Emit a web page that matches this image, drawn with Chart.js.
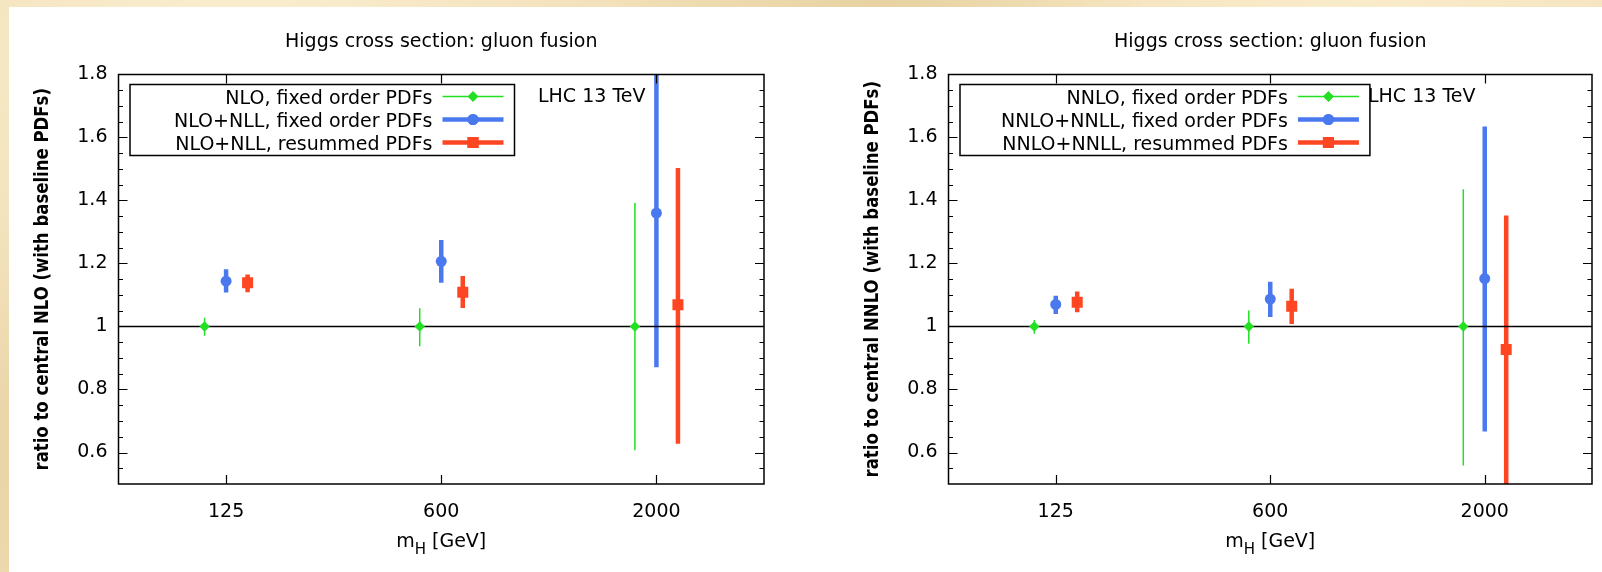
<!DOCTYPE html>
<html>
<head>
<meta charset="utf-8">
<script src="https://cdn.jsdelivr.net/npm/chart.js@4.4.0/dist/chart.umd.min.js"></script>
<style>
  html, body { margin: 0; padding: 0; }
  body {
    width: 1602px; height: 572px; overflow: hidden; position: relative;
    background-color: #f1dfb6;
    background-image:
      radial-gradient(circle at 15% 20%, rgba(255,246,222,0.8), transparent 30%),
      radial-gradient(circle at 55% 0%, rgba(228,205,155,0.7), transparent 25%),
      radial-gradient(circle at 85% 10%, rgba(255,244,215,0.7), transparent 30%),
      radial-gradient(circle at 2% 70%, rgba(230,206,158,0.8), transparent 20%);
  }
  #panel { position: absolute; left: 9px; top: 7px; right: 0; bottom: 0; background: #fff; }
  .box { position: absolute; top: 0; width: 801px; height: 572px; }
</style>
</head>
<body>
<div id="panel"></div>
<div class="box" style="left:0"><canvas id="chartLeft"></canvas></div>
<div class="box" style="left:801px"><canvas id="chartRight"></canvas></div>
<script>
// categories and y ticks
var massLabels = ['125', '600', '2000'];
var yTickValues = [0.6, 0.8, 1, 1.2, 1.4, 1.6, 1.8];

// left panel (NLO)
var nloFixed = [1, 1, 1];
var nloFixedLow = [0.971, 0.937, 0.607];
var nloFixedHigh = [1.028, 1.058, 1.392];

var nllFixed = [1.144, 1.207, 1.360];
var nllFixedLow = [1.108, 1.139, 0.871];
var nllFixedHigh = [1.182, 1.275, 1.85];

var nllResummed = [1.139, 1.109, 1.069];
var nllResummedLow = [1.109, 1.059, 0.628];
var nllResummedHigh = [1.165, 1.160, 1.503];

// right panel (NNLO)
var nnloFixed = [1, 1, 1];
var nnloFixedLow = [0.977, 0.945, 0.559];
var nnloFixedHigh = [1.021, 1.051, 1.436];

var nnllFixed = [1.070, 1.087, 1.152];
var nnllFixedLow = [1.040, 1.030, 0.667];
var nnllFixedHigh = [1.098, 1.142, 1.635];

var nnllResummed = [1.077, 1.064, 0.927];
var nnllResummedLow = [1.045, 1.008, 0.45];
var nnllResummedHigh = [1.111, 1.120, 1.352];

var FONT = 'DejaVu Sans';
Chart.defaults.font.family = FONT;
Chart.defaults.font.size = 19;
Chart.defaults.color = '#000';

var GREEN = '#22e022';
var BLUE = '#4a78ef';
var RED = '#ff4623';

function makeDataset(label, central, low, high, color, style, radius, lineW, shift) {
    var pts = [];
    for (let i = 0; i < central.length; i++) {
        pts.push({ x: i + 1 + shift, y: central[i] });
    }
    return {
        label: label,
        data: pts,
        errLow: low,
        errHigh: high,
        barWidth: lineW,
        borderColor: color,
        backgroundColor: color,
        pointBackgroundColor: color,
        pointBorderColor: color,
        pointBorderWidth: 0,
        pointStyle: style,
        pointRadius: radius,
        showLine: false
    };
}

var gnuplotFrame = {
    id: 'gnuplotFrame',
    beforeDatasetsDraw: function(chart) {
        var ctx = chart.ctx, ca = chart.chartArea;
        var xs = chart.scales.x, ys = chart.scales.y;
        ctx.save();
        ctx.beginPath();
        ctx.rect(ca.left, ca.top, ca.right - ca.left, ca.bottom - ca.top);
        ctx.clip();
        chart.data.datasets.forEach(function(ds) {
            ctx.strokeStyle = ds.borderColor;
            ctx.lineWidth = ds.barWidth;
            ds.data.forEach(function(p, i) {
                var px = xs.getPixelForValue(p.x);
                ctx.beginPath();
                ctx.moveTo(px, ys.getPixelForValue(ds.errLow[i]));
                ctx.lineTo(px, ys.getPixelForValue(ds.errHigh[i]));
                ctx.stroke();
            });
        });
        // reference line at 1
        var y1 = ys.getPixelForValue(1);
        ctx.strokeStyle = '#000';
        ctx.lineWidth = 1.5;
        ctx.beginPath();
        ctx.moveTo(ca.left, y1);
        ctx.lineTo(ca.right, y1);
        ctx.stroke();
        ctx.restore();
    },
    afterDraw: function(chart, args, opts) {
        var ctx = chart.ctx, ca = chart.chartArea;
        var xs = chart.scales.x, ys = chart.scales.y;
        ctx.save();
        ctx.strokeStyle = '#000';
        ctx.lineWidth = 1.5;
        ctx.strokeRect(ca.left, ca.top, ca.right - ca.left, ca.bottom - ca.top);

        // y ticks, both sides, inward
        ctx.lineWidth = 1.2;
        ctx.beginPath();
        for (let v = 0.55; v < 1.8; v += 0.05) {
            var yy = Math.round(ys.getPixelForValue(v)) + 0.5;
            var major = yTickValues.some(function(t) { return Math.abs(t - v) < 1e-6; });
            var len = major ? 9 : 4.5;
            ctx.moveTo(ca.left, yy); ctx.lineTo(ca.left + len, yy);
            ctx.moveTo(ca.right, yy); ctx.lineTo(ca.right - len, yy);
        }
        // x ticks, top and bottom
        for (let i = 0; i < massLabels.length; i++) {
            var xx = Math.round(xs.getPixelForValue(i + 1)) + 0.5;
            ctx.moveTo(xx, ca.bottom); ctx.lineTo(xx, ca.bottom - 9);
            ctx.moveTo(xx, ca.top); ctx.lineTo(xx, ca.top + 9);
        }
        ctx.stroke();

        var cx = (ca.left + ca.right) / 2;
        var cy = (ca.top + ca.bottom) / 2;
        ctx.fillStyle = '#000';
        ctx.textBaseline = 'alphabetic';

        // title
        ctx.font = '19px ' + FONT;
        ctx.textAlign = 'center';
        ctx.fillText(opts.title, cx, 47);

        // y axis title, bold and a bit narrow like the original
        ctx.save();
        ctx.translate(opts.yTitleX, cy);
        ctx.rotate(-Math.PI / 2);
        ctx.scale(0.87, 1);
        ctx.font = 'bold 19px ' + FONT;
        ctx.textBaseline = 'middle';
        ctx.fillText(opts.yTitle, 0, 0);
        ctx.restore();

        // x label m_H [GeV]
        ctx.textAlign = 'left';
        ctx.font = '19px ' + FONT;
        var wM = ctx.measureText('m').width;
        var wRest = ctx.measureText(' [GeV]').width;
        ctx.font = '15px ' + FONT;
        var wH = ctx.measureText('H').width;
        var x0 = cx - (wM + wH + wRest) / 2;
        ctx.font = '19px ' + FONT;
        ctx.fillText('m', x0, 547);
        ctx.fillText(' [GeV]', x0 + wM + wH, 547);
        ctx.font = '15px ' + FONT;
        ctx.fillText('H', x0 + wM, 554);

        // LHC label
        ctx.font = '19px ' + FONT;
        ctx.fillText('LHC 13 TeV', ca.left + 419.5, ca.top + 27);

        // legend box
        var dsets = chart.data.datasets;
        var maxW = 0;
        dsets.forEach(function(ds) { maxW = Math.max(maxW, ctx.measureText(ds.label).width); });
        var boxL = ca.left + 11.5;
        var textR = boxL + maxW + opts.legendPad;
        var boxR = textR + 82;
        var boxT = ca.top + 10, boxB = ca.top + 81;
        ctx.fillStyle = '#fff';
        ctx.fillRect(boxL, boxT, boxR - boxL, boxB - boxT);
        ctx.lineWidth = 1.5;
        ctx.strokeRect(boxL, boxT, boxR - boxL, boxB - boxT);
        dsets.forEach(function(ds, i) {
            var ry = boxT + 12 + i * 23;
            ctx.fillStyle = '#000';
            ctx.textAlign = 'right';
            ctx.fillText(ds.label, textR, ry + 7);
            ctx.strokeStyle = ds.borderColor;
            ctx.lineWidth = ds.barWidth;
            ctx.beginPath();
            ctx.moveTo(textR + 10, ry);
            ctx.lineTo(textR + 71, ry);
            ctx.stroke();
            ctx.fillStyle = ds.pointBackgroundColor;
            Chart.helpers.drawPoint(ctx, { pointStyle: ds.pointStyle, radius: ds.pointRadius, rotation: 0, borderWidth: 0 }, textR + 40.5, ry);
            ctx.fill();
        });
        ctx.restore();
    }
};

function buildChart(id, datasets, title, yTitle, lay) {
    return new Chart(document.getElementById(id), {
        type: 'scatter',
        data: { datasets: datasets },
        options: {
            responsive: true,
            maintainAspectRatio: false,
            animation: false,
            layout: { padding: { top: 74.5, right: lay.right, bottom: 0, left: 0 } },
            plugins: {
                legend: { display: false },
                tooltip: { enabled: false },
                gnuplotFrame: { title: title, yTitle: yTitle, yTitleX: lay.yTitleX, legendPad: lay.legendPad }
            },
            scales: {
                x: {
                    type: 'linear', min: 0.5, max: 3.5,
                    afterBuildTicks: function(ax) { ax.ticks = massLabels.map(function(l, i) { return { value: i + 1 }; }); },
                    afterFit: function(sc) { sc.height = 88; },
                    ticks: {
                        autoSkip: false, maxRotation: 0, padding: 17,
                        callback: function(v) { return massLabels[Math.round(v) - 1]; }
                    },
                    grid: { display: false, drawTicks: false },
                    border: { display: false }
                },
                y: {
                    min: 0.5, max: 1.8,
                    afterBuildTicks: function(ax) { ax.ticks = yTickValues.map(function(v) { return { value: v }; }); },
                    afterFit: function(sc) { sc.width = lay.yWidth; },
                    ticks: {
                        padding: 11,
                        callback: function(v) { return v === 1 ? '1' : v.toFixed(1); }
                    },
                    grid: { display: false, drawTicks: false },
                    border: { display: false }
                }
            }
        },
        plugins: [gnuplotFrame]
    });
}

buildChart('chartLeft', [
    makeDataset('NLO, fixed order PDFs', nloFixed, nloFixedLow, nloFixedHigh, GREEN, 'rectRot', 5.2, 1.5, -0.1),
    makeDataset('NLO+NLL, fixed order PDFs', nllFixed, nllFixedLow, nllFixedHigh, BLUE, 'circle', 5.5, 4.5, 0),
    makeDataset('NLO+NLL, resummed PDFs', nllResummed, nllResummedLow, nllResummedHigh, RED, 'rect', 7.8, 4.5, 0.1)
], 'Higgs cross section: gluon fusion', 'ratio to central NLO (with baseline PDFs)',
   { right: 37, yWidth: 118.5, yTitleX: 43, legendPad: 44 });

buildChart('chartRight', [
    makeDataset('NNLO, fixed order PDFs', nnloFixed, nnloFixedLow, nnloFixedHigh, GREEN, 'rectRot', 5.2, 1.5, -0.1),
    makeDataset('NNLO+NNLL, fixed order PDFs', nnllFixed, nnllFixedLow, nnllFixedHigh, BLUE, 'circle', 5.5, 4.5, 0),
    makeDataset('NNLO+NNLL, resummed PDFs', nnllResummed, nnllResummedLow, nnllResummedHigh, RED, 'rect', 7.8, 4.5, 0.1)
], 'Higgs cross section: gluon fusion', 'ratio to central NNLO (with baseline PDFs)',
   { right: 10, yWidth: 147.5, yTitleX: 72.5, legendPad: 41 });
</script>
</body>
</html>
